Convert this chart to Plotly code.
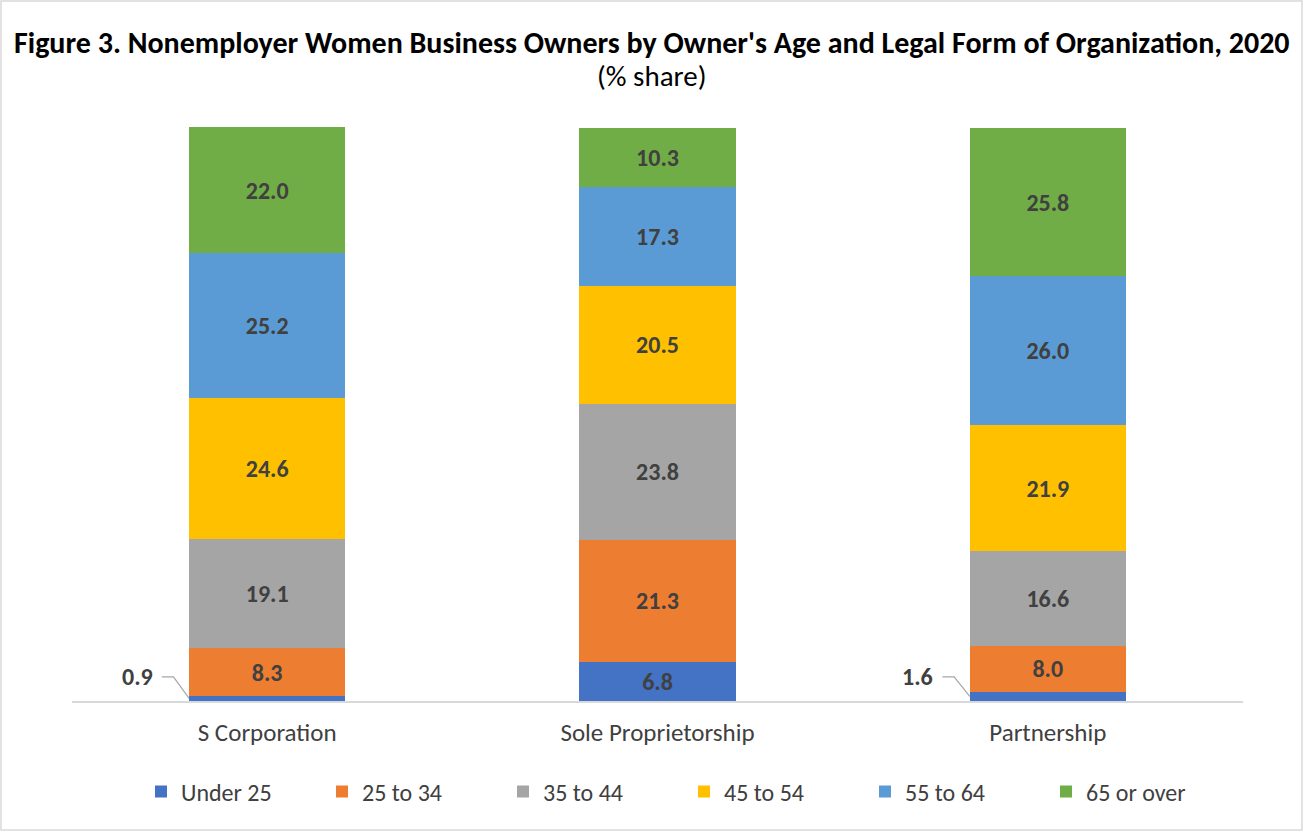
import plotly.graph_objects as go

categories = ["S Corporation", "Sole Proprietorship", "Partnership"]
age_groups = ["Under 25", "25 to 34", "35 to 44", "45 to 54", "55 to 64", "65 or over"]
under25 = [0.9, 6.8, 1.6]
age25_34 = [8.3, 21.3, 8.0]
age35_44 = [19.1, 23.8, 16.6]
age45_54 = [24.6, 20.5, 21.9]
age55_64 = [25.2, 17.3, 26.0]
age65_over = [22.0, 10.3, 25.8]
series = [under25, age25_34, age35_44, age45_54, age55_64, age65_over]
colors = ["#4472C4", "#ED7D31", "#A5A5A5", "#FFC000", "#5B9BD5", "#70AD47"]

FONT = "Calibri, Carlito, 'Open Sans', sans-serif"
TXT = "#404040"
W, H = 1303, 831
L, R, T, B = 72, 60, 127, 130

fig = go.Figure()
for name, vals, col in zip(age_groups, series, colors):
    texts = [f"{v:.1f}" if v >= 3 else "" for v in vals]
    fig.add_trace(go.Bar(
        x=categories, y=vals, name=name, marker=dict(color=col, line=dict(width=0)),
        text=texts, textposition="inside", insidetextanchor="middle",
        textfont=dict(family=FONT, size=24, color=TXT, weight="bold"),
        cliponaxis=False, hoverinfo="name+y",
    ))

# leader-line labels for small segments
for i, v in enumerate(under25):
    if v < 3:
        fig.add_annotation(x=i - 0.333, y=4.2, xref="x", yref="y", text=f"<b>{v:.1f}</b>",
                           showarrow=False, font=dict(family=FONT, size=24, color=TXT))
        fig.add_shape(type="path", xref="x", yref="y",
                      path=f"M {i-0.27} 4.2 L {i-0.24} 4.2 L {i-0.2} {v/2}",
                      line=dict(color="#A6A6A6", width=1.2))

pw = W - L - R
ph = H - T - B
# outer border
fig.add_shape(type="rect", xref="paper", yref="paper",
              x0=(1 - L) / pw, x1=(W - L - 1) / pw, y0=-(B - 1) / ph, y1=1 + (T - 1) / ph,
              line=dict(color="#D9D9D9", width=1.5), fillcolor="rgba(0,0,0,0)")

fig.add_annotation(xref="paper", yref="paper", x=(651.5 - L) / pw, y=1 + (T - 42) / ph,
                   yanchor="middle", xanchor="center",
                   text="<b>Figure 3. Nonemployer Women Business Owners by Owner's Age and Legal Form of Organization, 2020</b>",
                   showarrow=False, font=dict(family=FONT, size=30, color="black"))
fig.add_annotation(xref="paper", yref="paper", x=(651.5 - L) / pw, y=1 + (T - 76) / ph,
                   yanchor="middle", xanchor="center",
                   text="(% share)", showarrow=False, font=dict(family=FONT, size=29, color="black"))

fig.update_layout(
    width=W, height=H, barmode="stack", bargap=0.6,
    margin=dict(l=L, r=R, t=T, b=B, autoexpand=False),
    paper_bgcolor="white", plot_bgcolor="white",
    font=dict(family=FONT, color=TXT),
    xaxis=dict(showline=True, linecolor="#D9D9D9", linewidth=1.5, ticks="",
               tickfont=dict(family=FONT, size=25, color=TXT), ticklabelstandoff=8,
               showgrid=False),
    yaxis=dict(range=[0, 100.15], visible=False, showgrid=False),
    legend=dict(orientation="h", x=(684 - L) / pw, xanchor="center", y=-(792 - 701) / ph, yanchor="middle",
                font=dict(family=FONT, size=24, color=TXT), entrywidth=136, traceorder="normal",
                itemwidth=30),
    showlegend=True,
)

fig.write_html("out.html", config={"displayModeBar": False},
               post_script="document.body.style.margin='0';document.body.style.overflow='hidden';")
